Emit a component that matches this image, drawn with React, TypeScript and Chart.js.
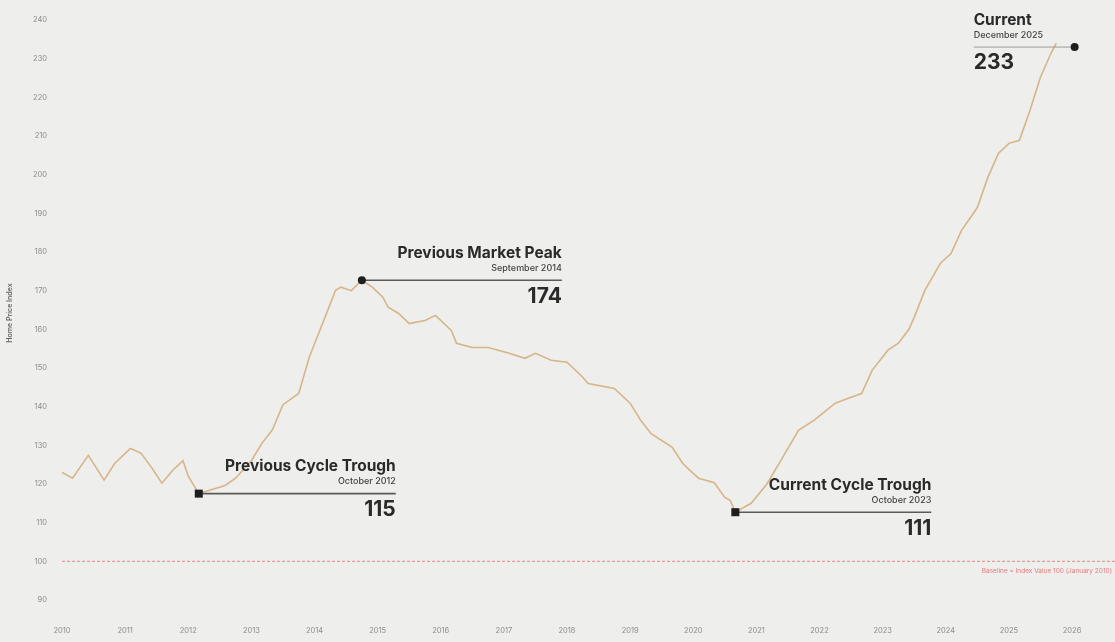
import React, { useEffect, useRef } from "react";
import { Chart, registerables } from "chart.js";

Chart.register(...registerables);

// ---- data ----
const months = [
  0, 2, 5, 8, 10, 13, 15, 17, 19, 21, 23, 24, 26, 31, 33, 36, 38, 40, 42, 45, 47, 50, 52, 53, 55, 57,
  59, 61, 62, 64, 66, 69, 71, 74, 75, 78, 81, 85, 88, 90, 93, 96, 99, 100, 105, 108, 110, 112, 116,
  118, 119, 121, 124, 126, 127, 128, 131, 134, 137, 140, 143, 147, 150, 152, 154, 157, 159, 161, 162,
  164, 167, 169, 171, 174, 176, 178, 180, 182, 184, 186, 188, 189,
];
const indexValues = [
  123, 121.5, 127.4, 121, 125.3, 129.2, 128, 124.3, 120.2, 123.5, 126, 122, 117.5, 119.6, 121.5, 126,
  130.5, 134, 140.5, 143.4, 152.8, 163.1, 170.1, 170.9, 170, 172.7, 170.9, 168.3, 165.7, 164.1, 161.5,
  162.3, 163.6, 159.7, 156.4, 155.3, 155.3, 153.8, 152.5, 153.8, 152, 151.5, 147.6, 146, 144.7, 140.9,
  136.5, 133, 129.5, 125.3, 124, 121.5, 120.3, 116.5, 115.8, 112.7, 115, 120, 126.9, 133.9, 136.5,
  140.9, 142.4, 143.4, 149.4, 154.6, 156.4, 160, 163.1, 170, 177.1, 179.6, 185.6, 191.5, 199.3, 205.5,
  208.1, 208.9, 216.6, 225.2, 231.4, 234,
];
const yearTicks = [0, 12, 24, 36, 48, 60, 72, 84, 96, 108, 120, 132, 144, 156, 168, 180, 192];
const yearLabels = [
  "2010", "2011", "2012", "2013", "2014", "2015", "2016", "2017", "2018", "2019", "2020", "2021",
  "2022", "2023", "2024", "2025", "2026",
];
const yTicks = [90, 100, 110, 120, 130, 140, 150, 160, 170, 180, 190, 200, 210, 220, 230, 240];
const baselineValue = 100;
const baselineLabel = "Baseline = Index Value 100 (January 2010)";
const axisTitle = "Home Price Index";

const markerMonths = [26, 57, 128, 192.5];
const markerLevels = [117.5, 172.7, 112.7, 233];
const markerTitles = ["Previous Cycle Trough", "Previous Market Peak", "Current Cycle Trough", "Current"];
const markerDates = ["October 2012", "September 2014", "October 2023", "December 2025"];
const markerValues = ["115", "174", "111", "233"];

// ---- layout / style (not data) ----
const annoLayout = [
  { dir: 1, len: 197, line: "#5a5a5a", lw: 1.6, style: "rect" },
  { dir: 1, len: 200, line: "#5a5a5a", lw: 1.6, style: "circle" },
  { dir: 1, len: 196, line: "#5a5a5a", lw: 1.6, style: "rect" },
  { dir: -1, len: 101, line: "#9a9a9a", lw: 1, style: "circle" },
];

const FONT = "Inter, 'DejaVu Sans', sans-serif";

const annotationPlugin = {
  id: "annos",
  beforeDatasetsDraw(chart: any) {
    const { ctx, chartArea, scales } = chart;
    const y = scales.y;
    const by = y.getPixelForValue(baselineValue);
    ctx.save();
    ctx.strokeStyle = "rgba(224,110,110,0.8)";
    ctx.lineWidth = 1;
    ctx.setLineDash([3, 2]);
    ctx.beginPath();
    ctx.moveTo(chartArea.left, by);
    ctx.lineTo(chart.width, by);
    ctx.stroke();
    ctx.setLineDash([]);
    ctx.fillStyle = "#e27c7c";
    ctx.font = `6.5px ${FONT}`;
    ctx.textAlign = "right";
    ctx.textBaseline = "middle";
    ctx.fillText(baselineLabel, chartArea.right, by + 10);
    // y-axis title
    ctx.translate(10, (chartArea.top + chartArea.bottom) / 2 + 5);
    ctx.rotate(-Math.PI / 2);
    ctx.textAlign = "center";
    ctx.fillStyle = "#666";
    ctx.font = `600 7px ${FONT}`;
    ctx.fillText(axisTitle, 0, 0);
    ctx.restore();
  },
  afterDatasetsDraw(chart: any) {
    const { ctx, scales } = chart;
    const x = scales.x;
    const y = scales.y;
    ctx.save();
    markerMonths.forEach((m, i) => {
      const L = annoLayout[i];
      const px = x.getPixelForValue(m);
      const py = y.getPixelForValue(markerLevels[i]);
      const end = px + L.dir * L.len;
      ctx.strokeStyle = L.line;
      ctx.lineWidth = L.lw;
      ctx.beginPath();
      ctx.moveTo(px, py);
      ctx.lineTo(end, py);
      ctx.stroke();
      const tx = end;
      ctx.textAlign = L.dir > 0 ? "right" : "left";
      ctx.textBaseline = "middle";
      ctx.fillStyle = "#2a2a2a";
      ctx.font = `700 15.5px ${FONT}`;
      ctx.fillText(markerTitles[i], tx, py - 27);
      ctx.fillStyle = "#444";
      ctx.font = `500 9px ${FONT}`;
      ctx.fillText(markerDates[i], tx, py - 12);
      ctx.fillStyle = "#2a2a2a";
      ctx.font = `700 21px ${FONT}`;
      ctx.fillText(markerValues[i], tx, py + 16);
      // marker
      ctx.fillStyle = "#1e1e1e";
      if (L.style === "rect") {
        ctx.fillRect(px - 4, py - 4, 8, 8);
      } else {
        ctx.beginPath();
        ctx.arc(px, py, 4, 0, Math.PI * 2);
        ctx.fill();
      }
    });
    ctx.restore();
  },
};

export default function App() {
  const ref = useRef<HTMLCanvasElement | null>(null);
  useEffect(() => {
    if (!ref.current) return;
    Chart.defaults.font.family = FONT;
    const chart = new Chart(ref.current, {
      type: "line",
      data: {
        datasets: [
          {
            data: months.map((m, i) => ({ x: m, y: indexValues[i] })),
            borderColor: "#d6b587",
            borderWidth: 1.6,
            pointRadius: 0,
            tension: 0,
            fill: false,
          },
        ],
      },
      options: {
        responsive: false,
        animation: false,
        layout: { padding: { left: 0, right: 3, top: 5.7, bottom: 0 } },
        plugins: { legend: { display: false }, tooltip: { enabled: false } },
        scales: {
          x: {
            type: "linear",
            min: 0,
            max: 199.6,
            grid: { display: false },
            border: { display: false },
            afterBuildTicks: (s: any) => {
              s.ticks = yearTicks.map((v) => ({ value: v }));
            },
            afterFit: (s: any) => {
              s.height = 31.6;
              s.paddingLeft = 0;
              s.paddingRight = 0;
            },
            ticks: {
              autoSkip: false,
              maxRotation: 0,
              padding: 8,
              color: "#8c8c8c",
              font: { size: 7.5 },
              callback: (v: any) => yearLabels[yearTicks.indexOf(Number(v))] ?? "",
            },
          },
          y: {
            type: "linear",
            min: 87.3,
            max: 243.7,
            grid: { display: false },
            border: { display: false },
            afterBuildTicks: (s: any) => {
              s.ticks = yTicks.map((v) => ({ value: v }));
            },
            afterFit: (s: any) => {
              s.width = 62;
              s.paddingTop = 0;
              s.paddingBottom = 0;
            },
            ticks: {
              padding: 7,
              color: "#8c8c8c",
              font: { size: 7.5 },
              callback: (v: any) => String(v),
            },
          },
        },
      },
      plugins: [annotationPlugin],
    });
    return () => chart.destroy();
  }, []);
  return (
    <div
      style={{
        position: "fixed",
        left: 0,
        top: 0,
        width: 1115,
        height: 642,
        background: "#eeeeec",
      }}
    >
      <canvas ref={ref} width={1115} height={642} style={{ display: "block" }} />
    </div>
  );
}
